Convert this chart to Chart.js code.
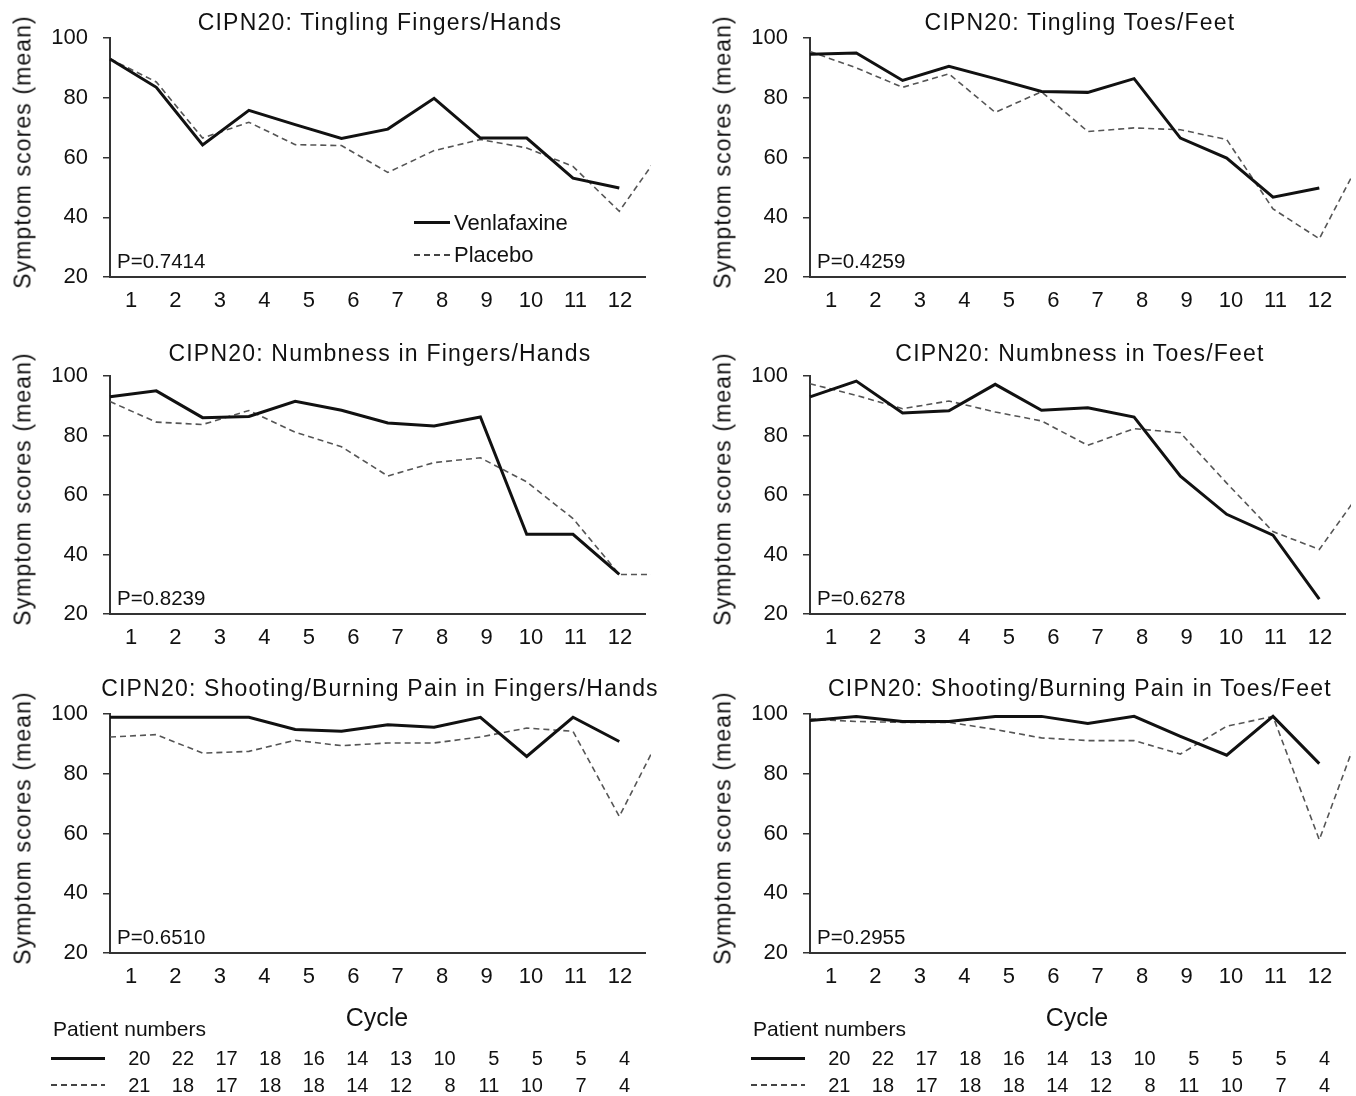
<!DOCTYPE html>
<html><head><meta charset="utf-8">
<script src="https://cdn.jsdelivr.net/npm/chart.js@4.4.1/dist/chart.umd.min.js"></script>
<style>
body{margin:0;background:#fff;width:1356px;height:1096px;position:relative;overflow:hidden;font-family:"Liberation Sans",Arial,sans-serif;color:#111}
canvas{position:absolute}
.t{position:absolute;white-space:nowrap;line-height:1}
</style></head><body>
<script>
// ---- data ----
const cycles = [1,2,3,4,5,6,7,8,9,10,11,12];
const yTicks = [20,40,60,80,100];
const titles = [
  "CIPN20:  Tingling  Fingers/Hands",
  "CIPN20:  Tingling  Toes/Feet",
  "CIPN20:  Numbness  in  Fingers/Hands",
  "CIPN20:  Numbness  in  Toes/Feet",
  "CIPN20:  Shooting/Burning  Pain  in  Fingers/Hands",
  "CIPN20:  Shooting/Burning  Pain  in  Toes/Feet"
];
const pValues = ["P=0.7414","P=0.4259","P=0.8239","P=0.6278","P=0.6510","P=0.2955"];
const seriesNames = ["Venlafaxine","Placebo"];
const yAxisTitle = "Symptom scores (mean)";
const xAxisTitle = "Cycle";
const tableTitle = "Patient numbers";

const venTinglingFingers = [93, 83.5, 64.2, 75.8, 71, 66.4, 69.5, 79.8, 66.5, 66.5, 53.1, 49.8];
const plaTinglingFingers = [93, 85.3, 66.5, 71.8, 64.3, 64, 55, 62.3, 66, 63.2, 57, 42, 64];
const venTinglingToes = [94.6, 95, 85.8, 90.5, 86.4, 82.1, 81.8, 86.4, 66.5, 59.8, 46.7, 49.8];
const plaTinglingToes = [95.5, 90, 83.5, 88, 75.1, 82, 68.7, 69.9, 69.3, 66, 42.8, 32.8, 62.5];
const venNumbFingers = [93, 95, 86, 86.4, 91.5, 88.5, 84.2, 83.2, 86.2, 46.8, 46.8, 33.3];
const plaNumbFingers = [91.4, 84.5, 83.7, 88.4, 81.1, 76.2, 66.4, 70.9, 72.5, 64.4, 52.1, 33.3, 33.3];
const venNumbToes = [93, 98.3, 87.6, 88.3, 97.2, 88.5, 89.3, 86.2, 66.3, 53.5, 46.5, 25];
const plaNumbToes = [97.4, 93.5, 89, 91.6, 87.9, 84.9, 76.7, 82.3, 80.9, 64, 47.7, 41.7, 63.4];
const venPainFingers = [98.9, 98.9, 98.9, 98.9, 94.8, 94.2, 96.4, 95.6, 98.9, 85.8, 98.9, 90.8];
const plaPainFingers = [92.3, 93.1, 86.9, 87.5, 91.2, 89.4, 90.3, 90.3, 92.3, 95.3, 94.2, 65.7, 96.1];
const venPainToes = [97.8, 99.2, 97.5, 97.5, 99.2, 99.2, 96.8, 99.2, 92.5, 86.2, 99.2, 83.4];
const plaPainToes = [98.3, 97.5, 97.2, 97.2, 94.8, 92, 91.1, 91.1, 86.6, 95.9, 99.2, 57.9, 100];

const patientsVen = [20,22,17,18,16,14,13,10,5,5,5,4];
const patientsPla = [21,18,17,18,18,14,12,8,11,10,7,4];

const panels = [
  {ven: venTinglingFingers, pla: plaTinglingFingers},
  {ven: venTinglingToes, pla: plaTinglingToes},
  {ven: venNumbFingers, pla: plaNumbFingers},
  {ven: venNumbToes, pla: plaNumbToes},
  {ven: venPainFingers, pla: plaPainFingers},
  {ven: venPainToes, pla: plaPainToes}
];

// ---- layout ----
const rows = [{top:0,y100:38,y20:277,title:22},{top:330,y100:376,y20:614,title:353},{top:660,y100:714,y20:953,title:688}];
const cols = [{left:0,width:680},{left:700,width:656}];
const AXIS_X = 110, AREA_R = 645, CANVAS_H = 345;
const DATA_STEP = 46.3, LABEL_STEP = 44.45, LABEL_OFF = 21;
const FONT = '"Liberation Sans", Arial, sans-serif';
Chart.defaults.font.family = FONT;

function addText(txt, css){
  const d = document.createElement('div');
  d.className = 't';
  d.textContent = txt;
  Object.assign(d.style, css);
  document.body.appendChild(d);
  return d;
}
function addBox(css){
  const d = document.createElement('div');
  d.style.position = 'absolute';
  Object.assign(d.style, css);
  document.body.appendChild(d);
}
const DASH = 'repeating-linear-gradient(to right,#444 0 6px,transparent 6px 10px)';

panels.forEach((p, k) => {
  const row = rows[Math.floor(k/2)], col = cols[k%2];
  const cv = document.createElement('canvas');
  cv.width = col.width; cv.height = CANVAS_H;
  cv.style.left = col.left + 'px'; cv.style.top = row.top + 'px';
  document.body.appendChild(cv);
  const padTop = row.y100 - row.top;
  const plotH = row.y20 - row.y100;
  const xAxisH = CANVAS_H - padTop - plotH;
  const areaW = AREA_R - AXIS_X;
  const lblMin = 1 - LABEL_OFF / LABEL_STEP;
  const clip = {left:2, top:6, right:6, bottom:6};
  new Chart(cv, {
    type: 'line',
    data: {datasets: [
      {label: seriesNames[0], data: p.ven.map((v,i)=>({x:i, y:v})), xAxisID:'xd', yAxisID:'y',
       borderColor:'#111', borderWidth:3, pointRadius:0, tension:0, fill:false, clip},
      {label: seriesNames[1], data: p.pla.map((v,i)=>({x:i, y:v})), xAxisID:'xd', yAxisID:'y',
       borderColor:'#555', borderWidth:1.6, borderDash:[6,4], pointRadius:0, tension:0, fill:false, clip}
    ]},
    options: {
      responsive:false, animation:false, devicePixelRatio:1,
      layout:{padding:{top:padTop, left:0, right:col.width - AREA_R, bottom:0}},
      plugins:{legend:{display:false}, tooltip:{enabled:false}, title:{display:false}},
      scales:{
        xd:{type:'linear', display:false, min:0, max:areaW / DATA_STEP},
        x:{type:'linear', position:'bottom', min:lblMin, max:lblMin + areaW / LABEL_STEP,
           afterBuildTicks:s=>{s.ticks = cycles.map(v=>({value:v}));},
           afterFit:s=>{s.height = xAxisH;},
           grid:{drawOnChartArea:false, drawTicks:false},
           border:{display:true, color:'#333', width:2},
           ticks:{autoSkip:false, maxRotation:0, minRotation:0, padding:11, color:'#111', font:{size:22}}},
        y:{type:'linear', position:'left', min:20, max:100,
           afterBuildTicks:s=>{s.ticks = yTicks.map(v=>({value:v}));},
           afterFit:s=>{s.width = AXIS_X;},
           grid:{drawOnChartArea:false, drawTicks:true, tickLength:7, color:'#333', lineWidth:1.5},
           border:{display:true, color:'#333', width:2},
           ticks:{padding:15, color:'#111', font:{size:22}}}
      }
    }
  });

  // title
  addText(titles[k], {left:(col.left+380)+'px', top:row.title+'px', fontSize:'23px', letterSpacing:'1.2px', transform:'translate(-50%,-50%)'});
  // y-axis title
  const cy = (row.y100 + row.y20)/2 - 6;
  addText(yAxisTitle, {left:(col.left+23)+'px', top:cy+'px', fontSize:'23px', letterSpacing:'1.1px', transform:'translate(-50%,-50%) rotate(-90deg)'});
  // p value
  addText(pValues[k], {left:(col.left+AXIS_X+7)+'px', top:(row.y20-16.5)+'px', fontSize:'20.5px', transform:'translateY(-50%)'});
});

// legend in first panel
addBox({left:'414px', top:'221.2px', width:'36px', height:'3px', background:'#111'});
addText(seriesNames[0], {left:'454px', top:'222.7px', fontSize:'22px', transform:'translateY(-50%)'});
addBox({left:'414px', top:'254.2px', width:'36px', height:'1.6px', background:DASH});
addText(seriesNames[1], {left:'454px', top:'255px', fontSize:'22px', transform:'translateY(-50%)'});

// patient number tables
cols.forEach(col => {
  const b = col.left;
  addText(xAxisTitle, {left:(b+377)+'px', top:'1017px', fontSize:'25px', transform:'translate(-50%,-50%)'});
  addText(tableTitle, {left:(b+53)+'px', top:'1028px', fontSize:'21px', transform:'translateY(-50%)'});
  addBox({left:(b+51)+'px', top:'1056.5px', width:'54px', height:'3px', background:'#111'});
  addBox({left:(b+51)+'px', top:'1084px', width:'54px', height:'1.6px', background:DASH});
  [[patientsVen,1058],[patientsPla,1085]].forEach(([arr,yy]) => {
    arr.forEach((n,i) => {
      const right = b + 150.5 + i*43.6;
      addText(String(n), {left:(right-40)+'px', width:'40px', textAlign:'right', top:yy+'px', fontSize:'20px', transform:'translateY(-50%)'});
    });
  });
});
</script>
</body></html>
